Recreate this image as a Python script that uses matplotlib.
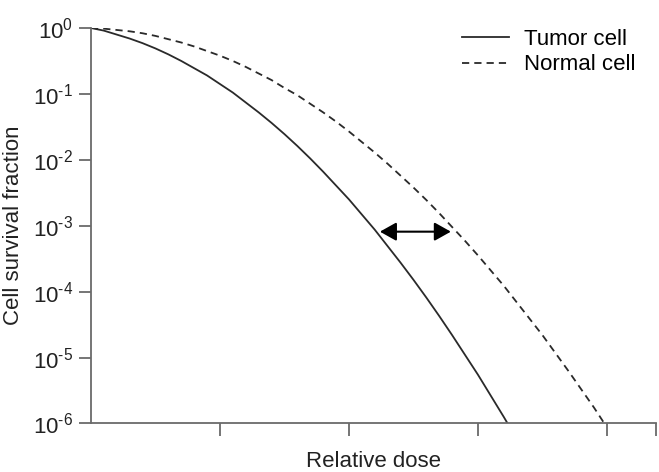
import numpy as np
import matplotlib
matplotlib.use("Agg")
import matplotlib.pyplot as plt

plt.rcParams['font.family'] = ['Liberation Sans', 'DejaVu Sans']
plt.rcParams['mathtext.fontset'] = 'custom'
plt.rcParams['mathtext.rm'] = 'Liberation Sans'
plt.rcParams['mathtext.it'] = 'Liberation Sans'

# values (log10 of survival fraction vs relative dose)
tumor_dose = [0.0, 0.1, 0.2, 0.3, 0.4, 0.5, 0.6, 0.7, 0.8, 0.9, 1.0, 1.1, 1.2, 1.3, 1.4, 1.5, 1.6,
              1.7, 1.8, 1.9, 2.0, 2.1, 2.2, 2.3, 2.4, 2.5, 2.6, 2.7, 2.8, 2.9, 3.0, 3.1, 3.2, 3.23]
tumor_log_sf = [0, -0.04, -0.10, -0.16, -0.23, -0.31, -0.40, -0.50, -0.61, -0.72, -0.85, -0.98,
                -1.13, -1.28, -1.44, -1.61, -1.79, -1.98, -2.18, -2.39, -2.60, -2.83, -3.06,
                -3.31, -3.56, -3.82, -4.09, -4.37, -4.66, -4.96, -5.26, -5.58, -5.90, -6.0]

normal_dose = [0.0, 0.1, 0.2, 0.3, 0.4, 0.5, 0.6, 0.7, 0.8, 0.9, 1.0, 1.1, 1.2, 1.3, 1.4, 1.5,
               1.6, 1.7, 1.8, 1.9, 2.0, 2.1, 2.2, 2.3, 2.4, 2.5, 2.6, 2.7, 2.8, 2.9, 3.0, 3.1,
               3.2, 3.3, 3.4, 3.5, 3.6, 3.7, 3.8, 3.9, 3.98]
normal_log_sf = [0, -0.01, -0.03, -0.05, -0.08, -0.12, -0.17, -0.22, -0.28, -0.35, -0.42, -0.50,
                 -0.59, -0.69, -0.79, -0.91, -1.02, -1.15, -1.28, -1.42, -1.57, -1.73, -1.89,
                 -2.06, -2.24, -2.42, -2.61, -2.81, -3.02, -3.23, -3.45, -3.68, -3.91, -4.16,
                 -4.41, -4.66, -4.93, -5.20, -5.48, -5.76, -6.0]

arrow_x = [2.24, 2.79]
arrow_log_sf = -3.09

ytick_exp = [0, -1, -2, -3, -4, -5, -6]
xticks = [1, 2, 3, 4, 4.38]

fig = plt.figure(figsize=(6.59, 4.72), dpi=100)
ax = fig.add_axes([0.138, 0.1028, 0.8574, 0.8379])

ax.plot(tumor_dose, 10.0 ** np.array(tumor_log_sf), color='#2a2a2a', lw=1.3,
        label='Tumor cell')
ax.plot(normal_dose, 10.0 ** np.array(normal_log_sf), color='#2a2a2a', lw=1.3,
        ls=(0, (4, 2.8)), label='Normal cell')

ax.annotate('', xy=(arrow_x[0], 10.0 ** arrow_log_sf),
            xytext=(arrow_x[1], 10.0 ** arrow_log_sf),
            arrowprops=dict(arrowstyle='<|-|>,head_length=0.5,head_width=0.28',
                            color='black', lw=1.5, mutation_scale=20,
                            shrinkA=0, shrinkB=0))

ax.set_yscale('log')
ax.set_xlim(0, 4.38)
ax.set_ylim(1e-6, 1)
ax.set_yticks([10.0 ** e for e in ytick_exp])
ax.set_yticklabels([r'$10^{\text{%d}}$' % e for e in ytick_exp])
ax.yaxis.set_minor_locator(matplotlib.ticker.NullLocator())
ax.set_xticks(xticks)
ax.set_xticklabels([])

for side in ['top', 'right']:
    ax.spines[side].set_visible(False)
for side in ['left', 'bottom']:
    ax.spines[side].set_color('#6a6a6a')
    ax.spines[side].set_linewidth(1.3)
ax.tick_params(axis='both', direction='out', length=9, width=1.3,
               color='#6a6a6a', labelsize=16, labelcolor='#222222')
ax.tick_params(axis='y', pad=4)

ax.set_xlabel('Relative dose', fontsize=16, color='#222222')
ax.xaxis.set_label_coords(0.5, -0.07)
ax.set_ylabel('Cell survival fraction', fontsize=16, color='#222222')
ax.yaxis.set_label_coords(-0.118, 0.5)

ax.legend(loc='upper left', frameon=False, fontsize=16, handlelength=2.1,
          handletextpad=0.7, labelspacing=0.2, borderaxespad=0, borderpad=0,
          bbox_to_anchor=(462 / 659, 1 - 29 / 472), bbox_transform=fig.transFigure)

fig.savefig('out.png', dpi=100)
